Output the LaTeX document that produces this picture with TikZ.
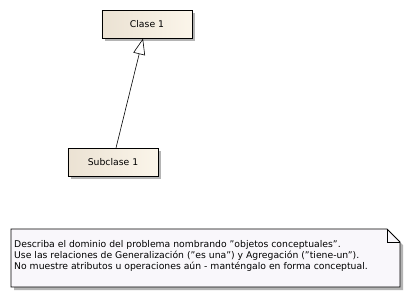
\documentclass[tikz,border=0pt]{standalone}
\usepackage{fontspec}
\setmainfont{DejaVu Sans}
\usetikzlibrary{arrows.meta,shadows}
\definecolor{clsleft}{HTML}{EBE2D3}
\definecolor{clsright}{HTML}{FBF5EA}
\definecolor{notefill}{HTML}{F9F7FB}
\definecolor{shadowgray}{HTML}{B4B4B4}
\tikzset{
  classbox/.style={draw=black, line width=0.8bp, left color=clsleft, right color=clsright,
    minimum width=90bp, minimum height=28bp, inner sep=0pt,
    font=\fontsize{9.3}{11}\selectfont,
    drop shadow={shadow xshift=3bp, shadow yshift=-3bp, fill=shadowgray, opacity=1}},
  generalization/.style={draw=black, line width=0.6bp,
    -{Triangle[open, length=16bp, width=12bp, fill=white]}},
  notetext/.style={font=\fontsize{9.3}{11}\selectfont, align=left, inner sep=0pt, anchor=north west},
}
\begin{document}
\begin{tikzpicture}[x=1bp, y=-1bp]
  \useasboundingbox[fill=white] (0,0) rectangle (409,295);
  % classes
  \node[classbox] (clase) at (147,24) {Clase 1};
  \node[classbox] (sub) at (113,162) {Subclase 1};
  % generalization arrow
  \coordinate (subtop) at (116,148);
  \coordinate (clasebot) at (143,38.5);
  \draw[generalization] (subtop) -- (clasebot);
  % note with folded corner
  \fill[shadowgray] (14,232) -- (390,232) -- (403,245) -- (403,290) -- (14,290) -- cycle;
  \draw[line width=0.8bp, fill=notefill] (11,229) -- (387,229) -- (400,242) -- (400,287) -- (11,287) -- cycle;
  \draw[line width=0.8bp] (387,229) -- (387,242) -- (400,242);
  \node[notetext] (note) at (14,240) {Describa el dominio del problema nombrando "objetos conceptuales".\\
Use las relaciones de Generalización ("es una") y Agregación ("tiene-un").\\
No muestre atributos u operaciones aún - manténgalo en forma conceptual.};
\end{tikzpicture}
\end{document}
